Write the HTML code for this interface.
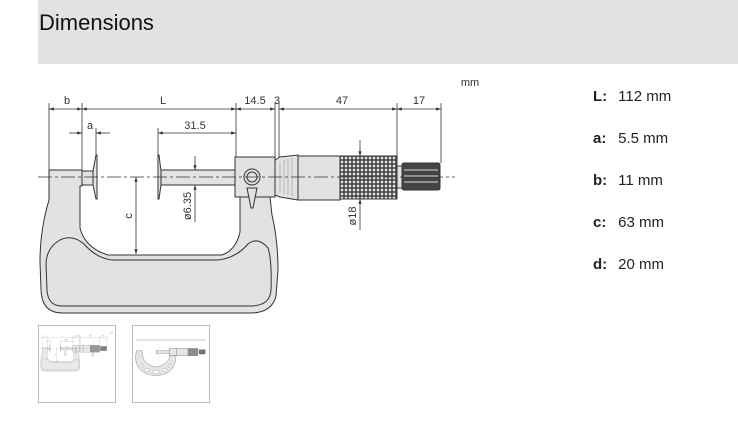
<!DOCTYPE html>
<html><head><meta charset="utf-8"><style>
html,body{margin:0;padding:0;background:#fff;width:738px;height:429px;overflow:hidden;font-family:"Liberation Sans","DejaVu Sans",sans-serif}
.hdr{position:absolute;left:38px;top:0;width:700px;height:64px;background:#e2e2e2}
.hdr span{position:absolute;left:1px;top:10px;font-size:22px;color:#111}
.spec{position:absolute;left:593px;font-size:15px;color:#222}
.spec b{display:inline-block;width:21px}
.th{position:absolute;top:325px;width:76px;height:76px;border:1px solid #bbb;background:#fff}
</style></head><body>
<div class="hdr"><span>Dimensions</span></div>
<svg style="position:absolute;left:0;top:0" width="738" height="429">
<defs>
<pattern id="kn" width="4" height="4" patternUnits="userSpaceOnUse">
<rect width="4" height="4" fill="#444"/><path d="M2,0.3 L3.7,2 L2,3.7 L0.3,2Z" fill="#e6e6e6"/></pattern>
<marker id="ar" markerWidth="6" markerHeight="6" refX="6" refY="3" orient="auto-start-reverse"><path d="M0,1 L6,3 L0,5z" fill="#333"/></marker>
</defs>
<g id="dia">
<g stroke="#333" stroke-width="1" fill="#e2e2e2">
<path d="M49,170 L82,170 L82,186 L80,186 L80,228 Q84,244 100,252 L108,255 L222,255 Q236,250 240,232 L240,197 L270,197 L272,215 Q278,240 278,270 L276,296 Q272,313 250,313 L62,313 Q42,313 41,290 L40,262 Q40,230 49,200 Z"/>
<path d="M60,240 Q72,234 84,244 Q96,258 112,260 L218,260 Q236,258 248,244 Q258,236 268,248 Q272,260 271,290 Q270,306 250,306 L62,306 Q48,306 47,290 L46,265 Q46,248 60,240 Z" fill="none"/>
<rect x="82" y="171" width="11" height="14"/>
<path d="M93,171 L96,155 L97,155 L97,199 L96,199 L93,185 Z"/>
<path d="M158,155 L159,155 L161,171 L161,185 L159,199 L158,199 Z"/>
<rect x="161" y="170" width="75" height="15"/>
<rect x="235" y="157" width="40" height="40"/>
<circle cx="252" cy="177" r="8"/><circle cx="252" cy="177" r="5"/>
<path d="M247,188 L257,188 L253,208 L251,208 Z"/>
<path d="M275,160 L280,157 L298,155 L298,200 L280,197 L275,195 Z"/>
<rect x="298" y="156" width="42" height="44"/>
<rect x="340" y="156" width="57" height="43" fill="url(#kn)"/>
<rect x="397" y="166" width="5" height="22"/>
<rect x="402" y="163" width="38" height="27" rx="2" fill="#444"/>
</g>
<g stroke="#888" stroke-width="0.5"><line x1="280" y1="162" x2="280" y2="192"/><line x1="284" y1="160" x2="284" y2="194"/><line x1="288" y1="159" x2="288" y2="195"/><line x1="292" y1="158" x2="292" y2="196"/></g>
<g stroke="#ddd" stroke-width="1"><line x1="404" y1="170" x2="438" y2="170"/><line x1="404" y1="176" x2="438" y2="176"/><line x1="404" y1="182" x2="438" y2="182"/></g>
<line x1="38" y1="177" x2="455" y2="177" stroke="#333" stroke-width="0.8" stroke-dasharray="14,3,3,3"/>
<g stroke="#333" stroke-width="0.8" fill="none">
<line x1="49" y1="103" x2="49" y2="170"/><line x1="82" y1="103" x2="82" y2="170"/>
<line x1="236" y1="103" x2="236" y2="157"/><line x1="275" y1="103" x2="275" y2="157"/>
<line x1="279" y1="103" x2="279" y2="157"/><line x1="397" y1="103" x2="397" y2="156"/>
<line x1="441" y1="103" x2="441" y2="163"/>
<line x1="96" y1="128" x2="96" y2="155"/><line x1="158" y1="128" x2="158" y2="155"/>
<line x1="49" y1="109" x2="82" y2="109" marker-start="url(#ar)" marker-end="url(#ar)"/>
<line x1="82" y1="109" x2="236" y2="109" marker-start="url(#ar)" marker-end="url(#ar)"/>
<line x1="236" y1="109" x2="275" y2="109" marker-start="url(#ar)" marker-end="url(#ar)"/>
<line x1="279" y1="109" x2="397" y2="109" marker-start="url(#ar)" marker-end="url(#ar)"/>
<line x1="397" y1="109" x2="441" y2="109" marker-start="url(#ar)" marker-end="url(#ar)"/>
<line x1="69" y1="133" x2="82" y2="133" marker-end="url(#ar)"/>
<line x1="110" y1="133" x2="96" y2="133" marker-end="url(#ar)"/>
<line x1="158" y1="133" x2="236" y2="133" marker-start="url(#ar)" marker-end="url(#ar)"/>
<line x1="136" y1="177" x2="136" y2="254" marker-start="url(#ar)" marker-end="url(#ar)"/>
<line x1="195" y1="156" x2="195" y2="170" marker-end="url(#ar)"/>
<line x1="195" y1="222" x2="195" y2="185" marker-end="url(#ar)"/>
<line x1="360" y1="140" x2="360" y2="156" marker-end="url(#ar)"/>
<line x1="360" y1="230" x2="360" y2="199" marker-end="url(#ar)"/>
</g>
<g font-family="Liberation Sans,sans-serif" font-size="11" fill="#333" text-anchor="middle">
<text x="67" y="104">b</text><text x="163" y="104">L</text><text x="255" y="104">14.5</text>
<text x="277" y="104">3</text><text x="342" y="104">47</text><text x="419" y="104">17</text>
<text x="90" y="129">a</text><text x="195" y="129">31.5</text>
<text x="470" y="86">mm</text>
<text transform="translate(132,216) rotate(-90)">c</text>
<text transform="translate(191,206) rotate(-90)">ø6.35</text>
<text transform="translate(356,216) rotate(-90)">ø18</text>
</g>
</g>
</svg>
<div class="spec" style="top:88px"><b>L:</b> 112 mm</div>
<div class="spec" style="top:130px"><b>a:</b> 5.5 mm</div>
<div class="spec" style="top:172px"><b>b:</b> 11 mm</div>
<div class="spec" style="top:214px"><b>c:</b> 63 mm</div>
<div class="spec" style="top:256px"><b>d:</b> 20 mm</div>
<div class="th" style="left:38px">
<svg width="76" height="76" viewBox="30 40 460 460" opacity="0.75"><use href="#dia"/></svg></div>
<div class="th" style="left:132px">
<svg width="76" height="76" viewBox="30 30 430 430" opacity="0.75">
<path d="M49,170 L82,170 L82,186 Q90,250 160,262 Q230,250 240,197 L270,197 Q280,300 160,312 Q40,300 45,200 Z" fill="#ddd" stroke="#333" stroke-width="2"/>
<g fill="#fff" stroke="#333" stroke-width="1.5"><ellipse cx="80" cy="255" rx="10" ry="8"/><ellipse cx="110" cy="280" rx="12" ry="9"/><ellipse cx="160" cy="290" rx="20" ry="10"/><ellipse cx="210" cy="280" rx="12" ry="9"/><ellipse cx="240" cy="255" rx="10" ry="8"/></g>
<rect x="235" y="157" width="40" height="40" fill="#ddd" stroke="#333" stroke-width="2"/>
<rect x="275" y="157" width="122" height="42" fill="#ddd" stroke="#333" stroke-width="2"/>
<rect x="340" y="157" width="57" height="42" fill="#666"/>
<rect x="402" y="163" width="38" height="27" fill="#444"/>
<rect x="161" y="170" width="75" height="15" fill="#ddd" stroke="#333" stroke-width="2"/>
<line x1="49" y1="109" x2="441" y2="109" stroke="#333" stroke-width="2"/>
</svg></div>
</body></html>
